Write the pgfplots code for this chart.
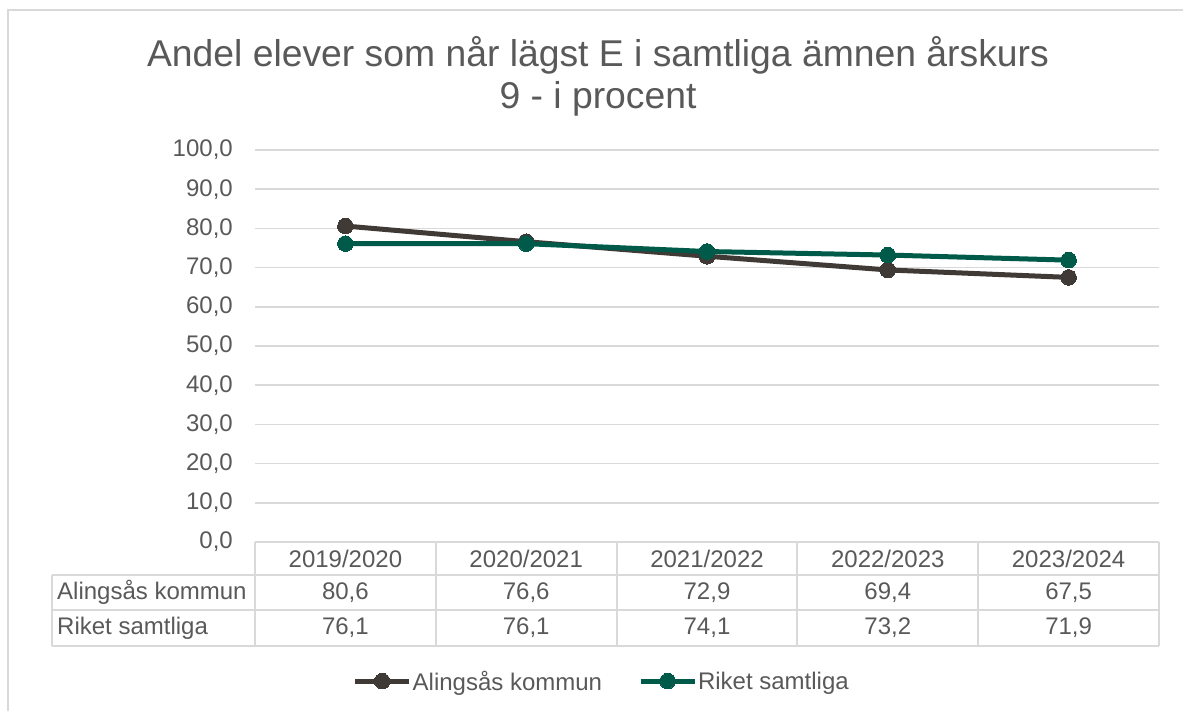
\documentclass[border=0pt]{standalone}
\usepackage{pgfplots}
\pgfplotsset{compat=1.18}
\usepackage{fontspec}
\setmainfont{Liberation Sans}
\definecolor{txt}{HTML}{595959}
\definecolor{grd}{HTML}{D9D9D9}
\definecolor{ali}{HTML}{403A36}
\definecolor{rik}{HTML}{005A4A}
\begin{document}
\begin{tikzpicture}
\path[use as bounding box] (0pt,0pt) rectangle (1183pt,711pt);
\draw[grd, line width=2pt] (8pt,0pt) -- (8pt,701pt) -- (1183pt,701pt);
\node[txt, font=\fontsize{37.3}{42}\selectfont, align=center] at (598pt,635pt) {Andel elever som når lägst E i samtliga ämnen årskurs\\9 - i procent};
\begin{axis}[at={(255pt,169pt)}, anchor=south west, width=904pt, height=392pt, scale only axis,
  xmin=-0.5, xmax=4.5, ymin=0, ymax=100, ytick={0,10,20,30,40,50,60,70,80,90,100}, xtick=\empty,
  axis line style={draw=none}, ymajorgrids, major grid style={grd, line width=1.5pt}, major tick length=0pt,
  yticklabel style={txt, font=\fontsize{24}{28}\selectfont, anchor=east, inner sep=0pt, xshift=-22pt,
    /pgf/number format/.cd, use comma, fixed, fixed zerofill, precision=1, assume math mode=true},
  clip=false, legend columns=2,
  legend style={at={(0.383,-0.355)}, anchor=center, draw=none, fill=none, text=txt,
    font=\fontsize{24}{28}\selectfont, nodes={inner sep=1pt},
    /tikz/every even column/.append style={column sep=35pt}},
  legend image code/.code={\draw[#1, mark repeat=2, mark phase=2] plot coordinates {(0pt,0pt) (27pt,0pt) (54pt,0pt)};}]
\addplot[ali, line width=5pt, mark=*, mark size=7.8pt, mark options={solid, fill=ali, draw=ali, line width=0pt}] coordinates {(0,80.6)(1,76.6)(2,72.9)(3,69.4)(4,67.5)};
\addplot[rik, line width=5pt, mark=*, mark size=7.8pt, mark options={solid, fill=rik, draw=rik, line width=0pt}] coordinates {(0,76.1)(1,76.1)(2,74.1)(3,73.2)(4,71.9)};
\legend{Alingsås kommun, Riket samtliga}
\end{axis}
% data table below the plot
\begin{scope}[grd, line width=2pt]
\draw (255pt,169pt) -- (1159pt,169pt);
\draw (52pt,136pt) -- (1159pt,136pt);
\draw (52pt,101pt) -- (1159pt,101pt);
\draw (52pt,65pt) -- (1159pt,65pt);
\draw (52pt,136pt) -- (52pt,65pt);
\foreach \xx in {255,435.8,616.6,797.4,978.2,1159} {\draw (\xx pt,169pt) -- (\xx pt,65pt);}
\end{scope}
\begin{scope}[every node/.style={txt, font=\fontsize{24}{28}\selectfont, inner sep=0pt}]
\node at (345.4pt,152.5pt) {2019/2020};
\node at (526.2pt,152.5pt) {2020/2021};
\node at (707pt,152.5pt) {2021/2022};
\node at (887.8pt,152.5pt) {2022/2023};
\node at (1068.6pt,152.5pt) {2023/2024};
\node[anchor=west] at (57pt,118.5pt) {Alingsås kommun};
\node[anchor=west] at (57pt,83pt) {Riket samtliga};
\node at (345.4pt,118.5pt) {80,6};
\node at (526.2pt,118.5pt) {76,6};
\node at (707pt,118.5pt) {72,9};
\node at (887.8pt,118.5pt) {69,4};
\node at (1068.6pt,118.5pt) {67,5};
\node at (345.4pt,83pt) {76,1};
\node at (526.2pt,83pt) {76,1};
\node at (707pt,83pt) {74,1};
\node at (887.8pt,83pt) {73,2};
\node at (1068.6pt,83pt) {71,9};
\end{scope}
\end{tikzpicture}
\end{document}
